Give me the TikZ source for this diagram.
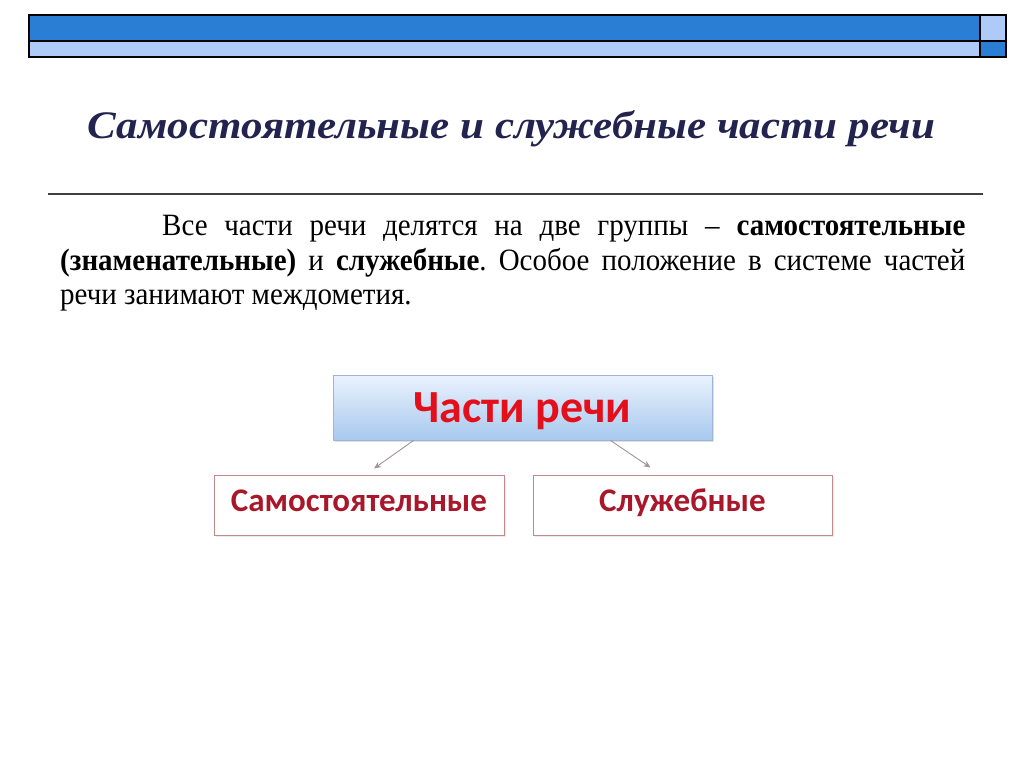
\documentclass[tikz,border=0pt]{standalone}
\usepackage{fontspec}
\setmainfont{Liberation Serif}
\newfontfamily\calib{Carlito}
\usetikzlibrary{arrows.meta,shadows}
\definecolor{barDark}{HTML}{2A7FD5}
\definecolor{barLight}{HTML}{ADCBF6}
\definecolor{titleCol}{HTML}{22244F}
\definecolor{boxTop}{HTML}{EAF2FD}
\definecolor{boxBot}{HTML}{A8C9EE}
\definecolor{boxLine}{HTML}{9DB5D6}
\definecolor{redA}{HTML}{E3101C}
\definecolor{redB}{HTML}{A8182A}
\definecolor{redLine}{HTML}{C48A8A}
\definecolor{arrCol}{HTML}{A09595}
\tikzset{
  barcell/.style={draw=black, line width=1.4pt},
  topbox/.style={draw=boxLine, line width=0.8pt, top color=boxTop, bottom color=boxBot,
    minimum width=379pt, minimum height=65pt, inner sep=0pt,
    text height=32pt, text depth=3pt,
    font=\calib\bfseries\fontsize{46}{52}\selectfont, text=redA,
    drop shadow={opacity=0.25, shadow xshift=1.5pt, shadow yshift=-1.5pt}},
  subbox/.style={draw=redLine, line width=1pt, fill=white,
    minimum height=60pt, inner sep=0pt, text height=19pt, text depth=6pt,
    font=\calib\bfseries\fontsize{33}{38}\selectfont, text=redB,
    drop shadow={opacity=0.15, shadow xshift=1.5pt, shadow yshift=-1.5pt}},
  conn/.style={draw=arrCol, line width=0.9pt, -{Stealth[length=7pt,width=6pt]}},
  para/.style={inner sep=0pt, anchor=base west, font=\fontsize{31}{34}\selectfont},
}
\newcommand{\narrow}[1]{\scalebox{0.935}[1]{#1}}
\frenchspacing
\begin{document}
\begin{tikzpicture}[x=1pt,y=-1pt]
\useasboundingbox[fill=white] (0,0) rectangle (1024,767);
% top bar
\path[barcell, fill=barDark] (29,15) rectangle (980,41);
\path[barcell, fill=barLight] (29,41) rectangle (980,57);
\path[barcell, fill=barLight] (980,15) rectangle (1006,41);
\path[barcell, fill=barDark] (980,41) rectangle (1006,57);
% title
\node[inner sep=0pt, anchor=base, text=titleCol,
  font=\bfseries\itshape\fontsize{39}{44}\selectfont] (title) at (511.5,139)
  {\resizebox{847pt}{\height}{Самостоятельные и служебные части речи}};
\draw[line width=2pt, draw=black!75] (48,194) -- (983,194);
% paragraph
\node[para] (l1) at (162,236) {\narrow{\makebox[859pt][s]{Все части речи делятся на две группы – \textbf{самостоятельные}}}};
\node[para] (l2) at (60,270) {\narrow{\makebox[968pt][s]{\textbf{(знаменательные)} и \textbf{служебные}. Особое положение в системе частей}}};
\node[para] (l3) at (60,304) {\narrow{речи занимают междометия.}};
% diagram
\node[topbox] (top) at (522.5,407.5) {Части речи};
\node[subbox, minimum width=290pt] (left) at (359,505) {Самостоятельные};
\node[subbox, minimum width=299pt] (right) at (682.5,505) {Служебные};
\draw[conn] ([xshift=81pt]top.south west) -- ([xshift=15pt,yshift=6pt]left.north);
\draw[conn] ([xshift=-102pt]top.south east) -- ([xshift=-32pt,yshift=7pt]right.north);
\end{tikzpicture}
\end{document}
